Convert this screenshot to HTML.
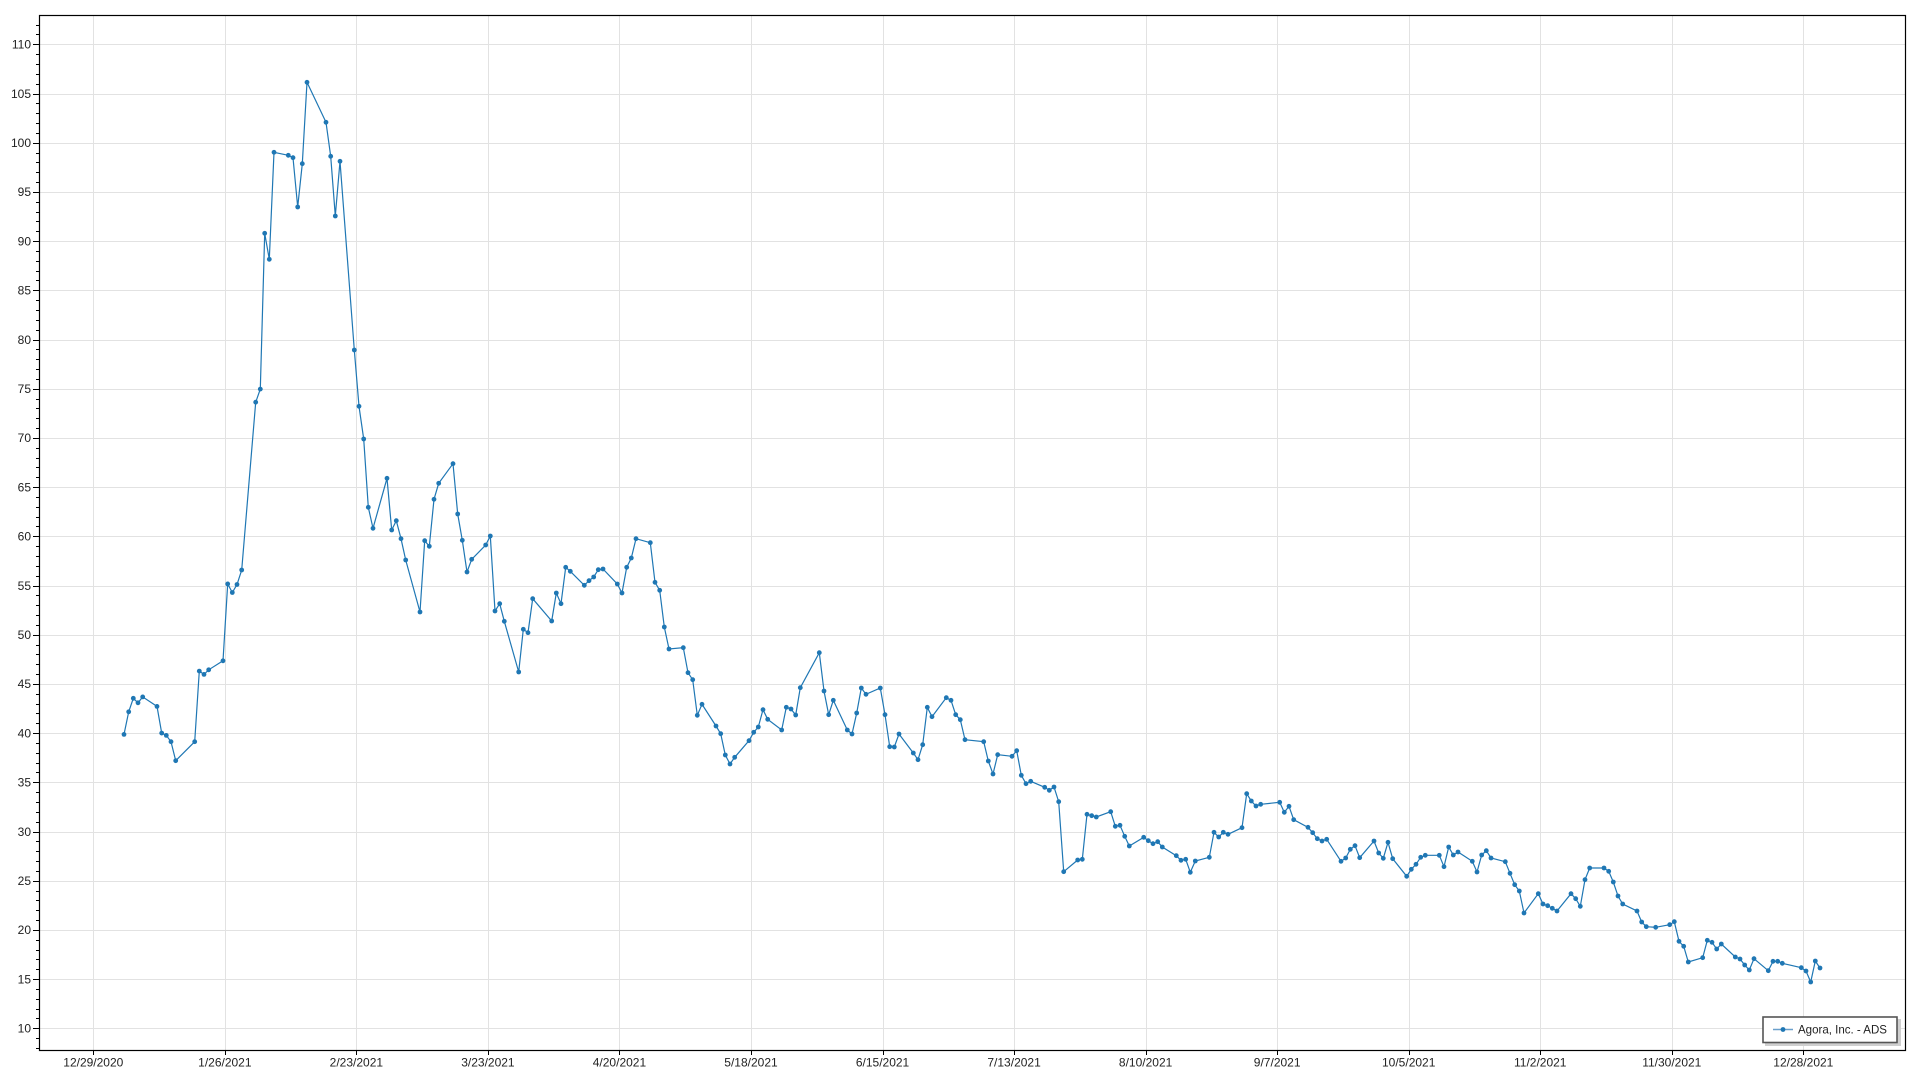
<!DOCTYPE html>
<html>
<head>
<meta charset="utf-8">
<style>
html,body{margin:0;padding:0;background:#fff;}
svg{display:block;}
text{font-family:"Liberation Sans",sans-serif;font-size:12px;fill:#222;}
</style>
</head>
<body>
<svg id="c" width="1920" height="1080" viewBox="0 0 1920 1080" xmlns="http://www.w3.org/2000/svg">
<rect x="0" y="0" width="1920" height="1080" fill="#fff"/>
<g id="grid"></g>
<g id="ticks"></g>
<g id="labels"></g>
<polyline id="line" fill="none" stroke="#1f77b4" stroke-width="1.2" points=""/>
<g id="marks" fill="#1f77b4"></g>
<rect x="39.5" y="15.5" width="1866" height="1035" fill="none" stroke="#000" stroke-width="1.2"/>
<!-- legend -->
<rect x="1765" y="1019" width="136" height="27" fill="#cfcfcf"/>
<rect x="1763" y="1017" width="134" height="25.5" fill="#fff" stroke="#555" stroke-width="1.6"/>
<line x1="1773" y1="1029.5" x2="1793" y2="1029.5" stroke="#6aa0cc" stroke-width="1.5"/>
<circle cx="1783" cy="1029.5" r="2.4" fill="#1f77b4"/>
<text x="1798" y="1033.5" textLength="89" lengthAdjust="spacingAndGlyphs">Agora, Inc. - ADS</text>
</svg>
<script>
(function(){
var NS="http://www.w3.org/2000/svg";
function el(tag,attrs,parent,txt){var e=document.createElementNS(NS,tag);for(var k in attrs)e.setAttribute(k,attrs[k]);if(txt!=null)e.textContent=txt;parent.appendChild(e);return e;}
var grid=document.getElementById('grid'),ticks=document.getElementById('ticks'),labels=document.getElementById('labels');
function vy(v){return 44.3+(110-v)*9.84;}
// horizontal gridlines + y labels
for(var v=10;v<=110;v+=5){
  var y=Math.round(vy(v))+0.5;
  el('line',{x1:40,x2:1905,y1:y,y2:y,stroke:'#e2e2e2','stroke-width':1},grid);
  el('line',{x1:33,x2:40,y1:y,y2:y,stroke:'#000','stroke-width':1},ticks);
  el('text',{x:31,y:vy(v)+4.3,'text-anchor':'end'},labels,String(v));
}
for(var m=8;m<=112;m++){
  if(m%5===0)continue;
  var y2=Math.round(vy(m))+0.5;
  el('line',{x1:36,x2:40,y1:y2,y2:y2,stroke:'#000','stroke-width':1},ticks);
}
var dates=["12/29/2020","1/26/2021","2/23/2021","3/23/2021","4/20/2021","5/18/2021","6/15/2021","7/13/2021","8/10/2021","9/7/2021","10/5/2021","11/2/2021","11/30/2021","12/28/2021"];
for(var k=0;k<dates.length;k++){
  var x=93.3+k*131.54;var xr=Math.round(x)+0.5;
  el('line',{x1:xr,x2:xr,y1:16,y2:1050,stroke:'#e2e2e2','stroke-width':1},grid);
  el('line',{x1:xr,x2:xr,y1:1050,y2:1055,stroke:'#000','stroke-width':1},ticks);
  el('text',{x:x,y:1066.5,'text-anchor':'middle'},labels,dates[k]);
}
var pts=[124,734.4,128.7,711.8,133.3,698.3,138,702.8,142.7,696.9,157,706.4,161.7,733.1,166.3,735.4,171,741.7,175.7,760.7,194.7,741.7,199.3,671.1,204,674.4,208.7,669.8,223,660.8,227.7,583.9,232.3,592.5,237,584.5,241.7,570,255.7,402.2,260.3,389.1,264.7,233.3,269.3,259.3,274,152.3,288.3,155.3,293,157.7,297.7,207,302.3,163.7,307,82.3,326,122.3,330.7,156.3,335.3,216,340,161.3,354.3,350,359,406.3,363.7,439,368.3,507.3,373,528.3,387,478.3,391.7,530,396.3,520.7,401,538.7,405.7,560,420,612,424.7,540.7,429.3,546.3,434,499.3,438.7,483.3,453,463.7,457.7,514,462.3,540.3,467,572,471.7,559.3,485.7,545,490.3,536,495,611,499.7,603.7,504.3,621.3,518.7,672,523.3,629.3,528,632.7,532.7,598.7,551.7,621,556.3,593,561,603.7,565.7,567.3,570.3,571.3,584.3,585.3,589,580.7,593.7,577,598.3,569.7,603,569,617.3,584,622,593,626.7,567.3,631.3,558,636,538.7,650.3,542.7,655,582.3,659.7,590.3,664.3,627,669,649,683.3,647.7,688,672.7,692.7,679.7,697.3,715.3,702,704.3,716,726,720.7,733.7,725.3,755,730,764,734.7,757.3,749,740.7,753.7,732.3,758.3,727,763,709.7,767.7,719.3,781.7,730,786.3,707.3,791,709,795.7,715,800.3,687.7,819.3,652.7,824,691,828.7,714.7,833.3,700.3,847.3,730,852,734,856.7,713,861.3,688,866,694.3,880.3,688,885,714.7,889.7,746.7,894.3,747,899,734,913.3,753,918,759.7,922.7,744.7,927.3,707.3,932,716.7,946.3,697.7,951,700.3,955.7,714.7,960.3,719.7,965,739.7,983.7,741.7,988.3,761,993,774,997.7,754.7,1012,756.3,1016.7,750.7,1021.3,775.3,1026,783.7,1030.7,781.3,1044.7,787.3,1049.3,790.3,1054,787,1058.7,801.7,1063.7,871.7,1077.7,860,1082.3,859.3,1087,814.3,1091.7,815.7,1096.3,817,1110.7,811.7,1115.3,826.3,1120,825.3,1124.7,836.3,1129.3,846,1143.7,837.3,1148.3,840.7,1153,843.7,1157.7,841.7,1162.3,847,1176.3,855.7,1181,860.3,1185.7,859.3,1190.3,872.3,1195.3,861,1209.3,857.3,1214,832.3,1218.7,837,1223.3,832.3,1228,834.3,1242,827.7,1246.7,793.7,1251.3,801,1256,806,1260.7,804.3,1279.7,802.3,1284.3,812.3,1289,806.3,1293.7,819.7,1308,827.3,1312.7,832.7,1317.3,838.7,1322,841,1326.7,839.3,1341,861.3,1345.7,858,1350.3,849.3,1355,845.7,1359.7,857.7,1374,841,1378.7,853,1383.3,858.3,1388,842.3,1392.7,858.7,1406.7,876.3,1411.3,869.3,1416,864.3,1420.7,857.3,1425.3,855.3,1439.3,855.3,1444,866.7,1448.7,847,1453.3,855,1458,852,1472.3,861.3,1477,872,1481.7,855,1486.3,850.7,1491,858,1505.3,861.7,1510,873.3,1514.7,884.7,1519.3,891,1524,913,1538.3,893.7,1543,904,1547.7,905.7,1552.3,908.3,1557,911,1571,893.7,1575.7,898.7,1580.3,906.3,1585,879.7,1589.7,868,1604,868,1608.7,871.3,1613.3,882,1618,896,1622.7,904,1637,911,1641.7,922,1646.3,926.7,1655.7,927.3,1669.7,924.7,1674.3,921.7,1679,941.3,1683.7,946.3,1688.3,962,1702.7,957.7,1707.3,940.3,1712,942.3,1716.7,949,1721.3,944,1735.3,957,1740,959,1744.7,965,1749.3,970,1754,958.7,1768.3,970.7,1773,961.3,1777.7,961.3,1782.3,963.3,1801.3,967.7,1806,971,1810.7,982,1815.3,961,1820,968];
var s=[],marks=document.getElementById('marks');
for(var i=0;i<pts.length;i+=2){
  s.push(pts[i]+','+pts[i+1]);
  el('circle',{cx:pts[i],cy:pts[i+1],r:2.4},marks);
}
document.getElementById('line').setAttribute('points',s.join(' '));
})();
</script>
</body>
</html>
